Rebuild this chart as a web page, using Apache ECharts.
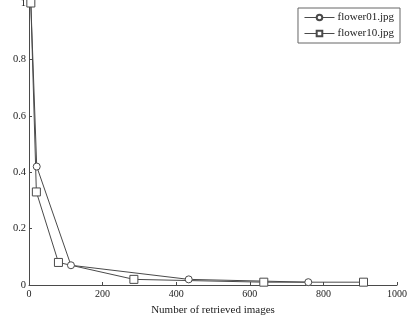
<!DOCTYPE html>
<html>
<head>
<meta charset="utf-8">
<script src="https://cdn.jsdelivr.net/npm/echarts@6/dist/echarts.min.js"></script>
<style>html,body{margin:0;padding:0;background:#fff;}#c{width:408px;height:318px;}</style>
</head>
<body>
<div id="c"></div>
<script>
const seriesNames = ['flower01.jpg', 'flower10.jpg'];
const flower01X = [5, 21, 114, 434, 759];
const flower01Y = [1.0, 0.42, 0.07, 0.02, 0.01];
const flower10X = [5, 20, 80, 285, 638, 909];
const flower10Y = [1.0, 0.33, 0.08, 0.02, 0.01, 0.01];
const xTicks = [0, 200, 400, 600, 800, 1000];
const yTicks = [0, 0.2, 0.4, 0.6, 0.8, 1];

const pair = (xs, ys) => xs.map((x, i) => [x, ys[i]]);
const font = 'Liberation Serif, Times New Roman, serif';
const col = '#4a4a4a';

const chart = echarts.init(document.getElementById('c'), null, {renderer: 'canvas'});
chart.setOption({
  animation: false,
  backgroundColor: '#fff',
  textStyle: {fontFamily: font},
  grid: {left: 29, right: 11, top: 3, bottom: 33, containLabel: false, outerBoundsMode: 'none'},
  legend: {
    orient: 'vertical',
    right: 8, top: 8,
    data: seriesNames,
    borderColor: '#666', borderWidth: 1, borderRadius: 0,
    padding: [4, 6, 4, 6],
    itemGap: 5, itemWidth: 30, itemHeight: 7,
    lineStyle: {width: 1},
    textStyle: {fontFamily: font, fontSize: 11, color: '#222', padding: [0, 0, 0, -2]}
  },
  xAxis: {
    type: 'value', min: 0, max: 1000, interval: 200,
    name: 'Number of retrieved images', nameLocation: 'middle', nameGap: 20,
    nameTextStyle: {fontFamily: font, fontSize: 11, color: '#222'},
    axisLine: {lineStyle: {color: col, width: 1}},
    axisTick: {inside: true, length: 3, lineStyle: {color: col}},
    axisLabel: {fontFamily: font, fontSize: 10, color: '#222', margin: 4,
      formatter: v => xTicks.includes(v) ? String(v) : ''},
    splitLine: {show: false}
  },
  yAxis: {
    type: 'value', min: 0, max: 1, interval: 0.2,
    name: 'Precision', nameLocation: 'middle', nameGap: 17,
    nameTextStyle: {fontFamily: font, fontSize: 11, color: '#222'},
    axisLine: {show: true, lineStyle: {color: col, width: 1}},
    axisTick: {show: true, inside: true, length: 3, lineStyle: {color: col}},
    axisLabel: {fontFamily: font, fontSize: 10.5, color: '#222', margin: 3,
      formatter: v => { const t = yTicks.find(k => Math.abs(k - v) < 1e-9); return t === undefined ? '' : String(t); }},
    splitLine: {show: false}
  },
  series: [
    {
      name: seriesNames[0], type: 'line', data: pair(flower01X, flower01Y),
      symbol: 'circle', symbolSize: 7, showAllSymbol: true,
      lineStyle: {color: col, width: 1},
      itemStyle: {color: '#fff', borderColor: col, borderWidth: 1}
    },
    {
      name: seriesNames[1], type: 'line', data: pair(flower10X, flower10Y),
      symbol: 'rect', symbolSize: 8, showAllSymbol: true,
      lineStyle: {color: col, width: 1},
      itemStyle: {color: '#fff', borderColor: col, borderWidth: 1}
    }
  ]
});
</script>
</body>
</html>
